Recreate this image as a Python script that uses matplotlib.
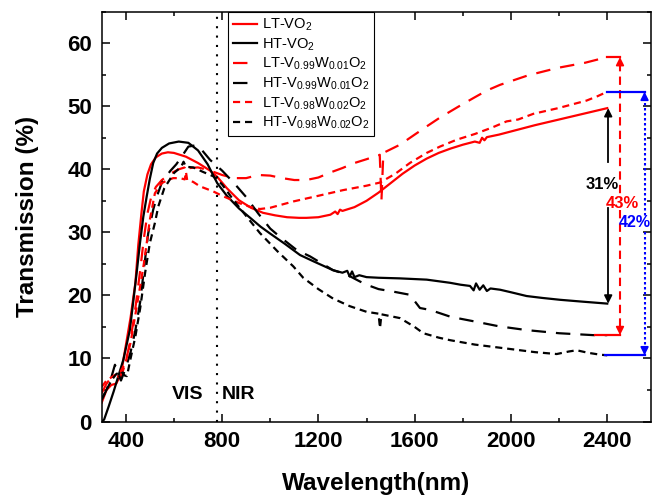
import matplotlib
matplotlib.use('Agg')
import matplotlib.pyplot as plt
from matplotlib.ticker import MultipleLocator

plt.rcParams['font.family'] = ['Liberation Sans', 'DejaVu Sans']
plt.rcParams['mathtext.default'] = 'regular'

# LT-VO2
wl_lt_vo2 = [300, 320, 340, 360, 380, 400, 420, 440, 452, 465, 475, 490, 505, 525, 550, 575,
             600, 650, 700, 750, 780, 820, 870, 920, 970, 1020, 1070, 1120, 1150, 1200, 1250,
             1270, 1280, 1290, 1300, 1350, 1400, 1450, 1500, 1550, 1600, 1650, 1700, 1750,
             1800, 1850, 1870, 1880, 1890, 1900, 1950, 2000, 2100, 2200, 2300, 2400]
t_lt_vo2 = [3.0, 5.0, 5.8, 6.0, 7.5, 12.0, 16.5, 22.0, 28.0, 33.0, 36.5, 39.2, 40.8, 41.9, 42.5, 42.7,
            42.6, 42.0, 41.0, 39.8, 38.8, 37.0, 35.1, 33.9, 33.1, 32.7, 32.4, 32.3, 32.3, 32.4, 32.8,
            33.3, 32.9, 33.6, 33.4, 34.0, 35.0, 36.3, 37.8, 39.3, 40.6, 41.7, 42.6, 43.3,
            43.9, 44.4, 44.2, 45.0, 44.6, 45.1, 45.5, 46.0, 47.0, 47.9, 48.8, 49.7]

# HT-VO2
wl_ht_vo2 = [300, 310, 330, 350, 370, 390, 417, 445, 459, 473, 487, 500, 514, 530, 550, 580,
             620, 660, 700, 740, 780, 820, 870, 920, 960, 1000, 1060, 1124, 1180, 1261, 1300,
             1320, 1330, 1340, 1350, 1370, 1400, 1450, 1539, 1650, 1747, 1790, 1830, 1845,
             1855, 1870, 1885, 1900, 1915, 1955, 2000, 2065, 2130, 2205, 2300, 2400]
t_ht_vo2 = [0.0, 0.3, 2.5, 4.8, 7.3, 9.8, 14.5, 23.5, 28.3, 32.5, 35.7, 38.5, 41.0, 42.5, 43.4, 44.1,
            44.4, 44.2, 43.0, 40.8, 37.8, 35.8, 33.8, 32.2, 30.9, 29.8, 28.2, 26.4, 25.4, 24.0, 23.6,
            23.9, 23.0, 23.8, 22.9, 23.2, 22.9, 22.8, 22.7, 22.5, 22.0, 21.7, 21.5, 20.8,
            21.9, 20.9, 21.6, 20.7, 21.1, 20.9, 20.5, 19.9, 19.6, 19.3, 19.0, 18.7]

# LT-V0.99W0.01O2
wl_lt_w1 = [300, 320, 340, 360, 380, 400, 420, 440, 460, 475, 490, 505, 525, 550, 585, 620,
            645, 655, 665, 700, 750, 800, 850, 900, 950, 1000, 1050, 1100, 1150, 1200, 1250,
            1300, 1350, 1400, 1455, 1462, 1470, 1539, 1600, 1650, 1705, 1780, 1844, 1900,
            1955, 2071, 2196, 2308, 2400]
t_lt_w1 = [4.5, 6.0, 7.0, 7.2, 7.0, 9.5, 13.0, 18.0, 24.0, 29.0, 33.0, 35.5, 37.2, 38.3, 39.3, 40.0,
           40.3, 41.0, 40.2, 40.3, 39.8, 39.1, 38.6, 38.6, 39.1, 39.0, 38.6, 38.3, 38.3, 38.7, 39.5,
           40.2, 41.0, 41.6, 42.3, 35.0, 42.6, 43.9, 45.5, 46.8, 48.2, 49.9, 51.3, 52.5,
           53.4, 54.9, 56.1, 56.9, 57.8]

# HT-V0.99W0.01O2
wl_ht_w1 = [300, 320, 340, 355, 365, 380, 400, 420, 440, 460, 478, 493, 514, 530, 549, 584,
            610, 632, 660, 690, 715, 750, 800, 850, 900, 950, 1000, 1040, 1110, 1165, 1261,
            1318, 1373, 1400, 1450, 1511, 1580, 1622, 1664, 1750, 1858, 1950, 2065, 2200,
            2341, 2400]
t_ht_w1 = [3.5, 5.0, 7.0, 9.0, 8.0, 6.5, 8.5, 11.0, 14.5, 19.0, 25.0, 29.8, 33.6, 35.8, 37.8, 39.7,
           40.8, 42.0, 43.6, 43.8, 43.1, 41.5, 39.8, 37.8, 35.6, 33.0, 30.6, 29.3, 27.2, 26.2, 24.0,
           23.3, 22.2, 21.7, 21.0, 20.6, 20.1, 18.0, 17.7, 16.6, 15.8, 15.1, 14.5, 14.0,
           13.7, 13.7]

# LT-V0.98W0.02O2
wl_lt_w2 = [300, 320, 340, 360, 380, 400, 420, 440, 460, 475, 487, 500, 521, 549, 575, 597,
            625, 645, 650, 655, 680, 708, 763, 800, 874, 920, 957, 1000, 1096, 1200, 1303,
            1400, 1456, 1520, 1580, 1650, 1705, 1775, 1850, 1920, 1982, 2030, 2093, 2196,
            2314, 2360, 2400]
t_lt_w2 = [5.5, 6.5, 7.0, 7.5, 8.0, 9.5, 12.5, 17.0, 21.5, 25.0, 28.3, 32.0, 36.2, 37.8, 38.3, 38.6,
           38.6, 38.4, 39.6, 38.3, 38.0, 37.3, 36.5, 35.8, 34.6, 34.0, 33.7, 33.9, 34.9, 35.8, 36.7,
           37.4, 37.9, 39.3, 41.0, 42.6, 43.6, 44.7, 45.6, 46.6, 47.6, 47.9, 48.8, 49.7,
           50.9, 51.6, 52.3]

# HT-V0.98W0.02O2
wl_ht_w2 = [300, 320, 340, 360, 380, 395, 405, 420, 440, 460, 480, 500, 521, 535, 560, 600,
            630, 640, 650, 680, 720, 763, 800, 846, 900, 957, 1030, 1096, 1137, 1200, 1261,
            1330, 1400, 1450, 1456, 1462, 1539, 1600, 1636, 1700, 1747, 1850, 1955, 2100,
            2190, 2240, 2273, 2320, 2370, 2400]
t_ht_w2 = [3.5, 5.0, 6.5, 7.5, 8.0, 7.3, 7.2, 10.0, 13.5, 18.0, 23.5, 28.3, 31.5, 34.1, 37.0, 39.4,
           40.4, 41.2, 40.4, 40.3, 39.6, 38.9, 37.6, 35.2, 32.6, 29.9, 27.0, 24.6, 22.8, 21.0, 19.5,
           18.3, 17.4, 17.1, 14.8, 17.0, 16.4, 15.0, 14.0, 13.3, 12.9, 12.2, 11.7, 11.0,
           10.7, 11.1, 11.3, 10.9, 10.6, 10.5]

labels = ['LT-VO$_2$', 'HT-VO$_2$',
          'LT-V$_{0.99}$W$_{0.01}$O$_2$', 'HT-V$_{0.99}$W$_{0.01}$O$_2$',
          'LT-V$_{0.98}$W$_{0.02}$O$_2$', 'HT-V$_{0.98}$W$_{0.02}$O$_2$']

# modulation values at 2400 nm
mod_vo2 = (t_lt_vo2[-1], t_ht_vo2[-1])
mod_w1 = (t_lt_w1[-1], t_ht_w1[-1])
mod_w2 = (t_lt_w2[-1], t_ht_w2[-1])

fig = plt.figure(figsize=(6.54, 4.99), dpi=100)
ax = fig.add_axes([0.1555, 0.1553, 0.84, 0.8213])

lw = 1.6
long_dash = (6.5, 4.5)
short_dash = (3.2, 2.2)
ax.plot(wl_lt_vo2, t_lt_vo2, color='red', lw=lw, label=labels[0])
ax.plot(wl_ht_vo2, t_ht_vo2, color='black', lw=lw, label=labels[1])
ax.plot(wl_lt_w1, t_lt_w1, color='red', lw=lw, dashes=long_dash, label=labels[2])
ax.plot(wl_ht_w1, t_ht_w1, color='black', lw=lw, dashes=long_dash, label=labels[3])
ax.plot(wl_lt_w2, t_lt_w2, color='red', lw=lw, dashes=short_dash, label=labels[4])
ax.plot(wl_ht_w2, t_ht_w2, color='black', lw=lw, dashes=short_dash, label=labels[5])

# VIS / NIR border
ax.axvline(780, color='black', lw=1.5, ls=(0, (1, 3.5)))
ax.text(722, 4.3, 'VIS', fontsize=14, fontweight='bold', ha='right', va='center')
ax.text(800, 4.3, 'NIR', fontsize=14, fontweight='bold', ha='left', va='center')


def head(x, y, up, color):
    dy = 1.2 if up else -1.2
    ax.annotate('', xy=(x, y), xytext=(x, y - dy),
                arrowprops=dict(arrowstyle='-|>', color=color, lw=1.2,
                                mutation_scale=12, shrinkA=0, shrinkB=0))


# 31 % : VO2
xa = 2404
ax.plot([xa, xa], [mod_vo2[0] - 1, 41.2], color='black', lw=1.3)
ax.plot([xa, xa], [33.8, mod_vo2[1] + 1], color='black', lw=1.3)
head(xa, mod_vo2[0], True, 'black')
head(xa, mod_vo2[1], False, 'black')
ax.text(2381, 37.6, '31%', fontsize=12, fontweight='bold', color='black',
        ha='center', va='center')

# 43 % : V0.99W0.01O2
xr = 2453
ax.plot([2400, xr], [mod_w1[0], mod_w1[0]], color='red', lw=1.6)
ax.plot([2350, xr], [mod_w1[1], mod_w1[1]], color='red', lw=1.6)
ax.plot([xr, xr], [mod_w1[0] - 1, 35.7], color='red', lw=1.5, dashes=(4, 2.5))
ax.plot([xr, xr], [33.6, mod_w1[1] + 1], color='red', lw=1.5, dashes=(4, 2.5))
head(xr, mod_w1[0], True, 'red')
head(xr, mod_w1[1], False, 'red')
ax.text(2463, 34.6, '43%', fontsize=12, fontweight='bold', color='red',
        ha='center', va='center')

# 42 % : V0.98W0.02O2
xb = 2555
ax.plot([2400, xb], [mod_w2[0], mod_w2[0]], color='blue', lw=1.6)
ax.plot([2390, xb], [mod_w2[1], mod_w2[1]], color='blue', lw=1.6)
ax.plot([xb, xb], [mod_w2[0] - 1, 32.5], color='blue', lw=1.5, dashes=(1.2, 1.2))
ax.plot([xb, xb], [30.1, mod_w2[1] + 1], color='blue', lw=1.5, dashes=(1.2, 1.2))
head(xb, mod_w2[0], True, 'blue')
head(xb, mod_w2[1], False, 'blue')
ax.text(2582, 31.6, '42%', fontsize=11.5, fontweight='bold', color='blue',
        ha='right', va='center')

ax.set_xlim(300, 2582)
ax.set_ylim(0, 65)
ax.xaxis.set_major_locator(MultipleLocator(400))
ax.xaxis.set_minor_locator(MultipleLocator(200))
ax.yaxis.set_major_locator(MultipleLocator(10))
ax.yaxis.set_minor_locator(MultipleLocator(5))
ax.tick_params(which='both', direction='in', top=True, right=True, width=1.1)
ax.tick_params(which='major', length=6, labelsize=16, pad=7)
ax.tick_params(which='minor', length=3)
for lab in ax.get_xticklabels() + ax.get_yticklabels():
    lab.set_fontweight('bold')
for sp in ax.spines.values():
    sp.set_linewidth(1.1)

ax.set_xlabel('Wavelength(nm)', fontsize=17.5, fontweight='bold', labelpad=14)
ax.set_ylabel('Transmission (%)', fontsize=17.5, fontweight='bold', labelpad=20)

leg = ax.legend(loc='upper left', bbox_to_anchor=(0.23, 1.0), borderaxespad=0,
                fontsize=10.5, frameon=True, fancybox=False, framealpha=1,
                edgecolor='black', handlelength=1.65, handletextpad=0.3,
                labelspacing=0.22, borderpad=0.35)
leg.get_frame().set_linewidth(0.8)

fig.savefig('out.png', dpi=100)
